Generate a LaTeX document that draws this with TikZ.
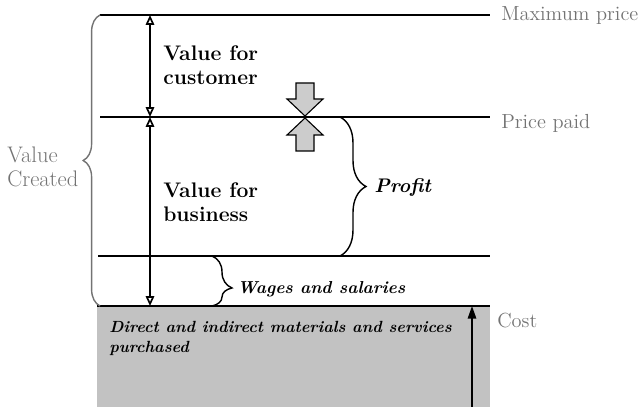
\documentclass[tikz,border=0pt]{standalone}
\usepackage{tikz}
\usetikzlibrary{arrows.meta,decorations.pathreplacing,calc}
\tikzset{>=latex}
\tikzset{
  level/.style={line width=2pt},
  thinlevel/.style={line width=1.2pt},
  greylabel/.style={text=black!55,font=\fontsize{14.5}{16.5}\selectfont,anchor=west,inner sep=0pt,align=left},
  valuetext/.style={font=\fontsize{15}{17.4}\selectfont\bfseries,align=left,anchor=north west,inner sep=0pt},
  notetext/.style={font=\fontsize{14}{14.2}\selectfont\bfseries\itshape,anchor=west,inner sep=0pt,align=left},
  bracepath/.style={decorate,decoration={brace,amplitude=#1}},
  twoway/.style={{Triangle[open,length=7pt,width=6pt]}-{Triangle[open,length=7pt,width=6pt]},line width=1.2pt},
}

\begin{document}
\begin{tikzpicture}[x=0.025cm,y=-0.025cm]
    \useasboundingbox (0,0) rectangle (640,407);
    \def\ytop{15}
    \def\yprice{117}
    \def\ywage{256}
    \def\ycost{306}
    \def\xr{490}
    % cost block
    \fill [black!24] (97,\ycost) rectangle (\xr,407);
    % levels
    \draw [level] (100,\ytop) coordinate (maxL) -- (\xr,\ytop) coordinate (maxR);
    \draw [level] (100,\yprice) coordinate (paidL) -- (\xr,\yprice) coordinate (paidR);
    \draw [thinlevel] (98,\ywage) coordinate (wageL) -- (\xr,\ywage) coordinate (wageR);
    \draw [level] (97,\ycost) coordinate (costL) -- (\xr,\ycost) coordinate (costR);
    \coordinate (vtop) at (150,\ytop);
    \coordinate (vmid) at (150,\yprice);
    \coordinate (vbot) at (150,\ycost);
    \draw [twoway] (vtop) -- (vmid);
    \draw [twoway] (vmid) -- (vbot);
    % squeeze arrows on the price paid line
    \foreach \s in {1,-1}
      \draw [fill=black!20,line width=0.8pt] (305,{\yprice-\s}) -- (287,{\yprice-18*\s}) -- (296,{\yprice-18*\s})
        -- (296,{\yprice-34*\s}) -- (314,{\yprice-34*\s}) -- (314,{\yprice-18*\s}) -- (323,{\yprice-18*\s}) -- cycle;
    % cost arrow
    \coordinate (cbase) at (472,407);
    \coordinate (ctip) at (472,\ycost);
    \draw [-{Triangle[length=9pt,width=6pt]},line width=1.2pt] (cbase) -- (ctip);
    % braces
    \draw [bracepath=0.42cm,black!55,line width=1pt] (100,\ycost) -- (100,\ytop);
    \draw [bracepath=0.65cm,line width=1pt] (340,\yprice) -- (340,\ywage);
    \draw [bracepath=0.5cm,line width=1pt,decoration={aspect=0.64}] (212,\ywage) -- (212,\ycost);
    % texts
    \node [valuetext] (cust) at (163,45) {Value for\\customer};
    \node [valuetext] (bus) at (163,182) {Value for\\business};
    \node [notetext] (profit) at (374,188) {Profit};
    \node [notetext,font=\fontsize{12.3}{14}\selectfont\bfseries\itshape] (wages) at (237,289) {Wages and salaries};
    \node [notetext,anchor=north west,font=\fontsize{11.5}{14.2}\selectfont\bfseries\itshape] (direct) at (109,321) {Direct and indirect materials and services\\purchased};
    \node [greylabel] (maxp) at (501,16) {Maximum price};
    \node [greylabel] (paid) at (501,123) {Price paid};
    \node [greylabel] (cost) at (497,321) {Cost};
    \node [greylabel,anchor=north west,font=\fontsize{16}{17}\selectfont] (created) at (7,147) {Value\\Created};
\end{tikzpicture}
\end{document}
